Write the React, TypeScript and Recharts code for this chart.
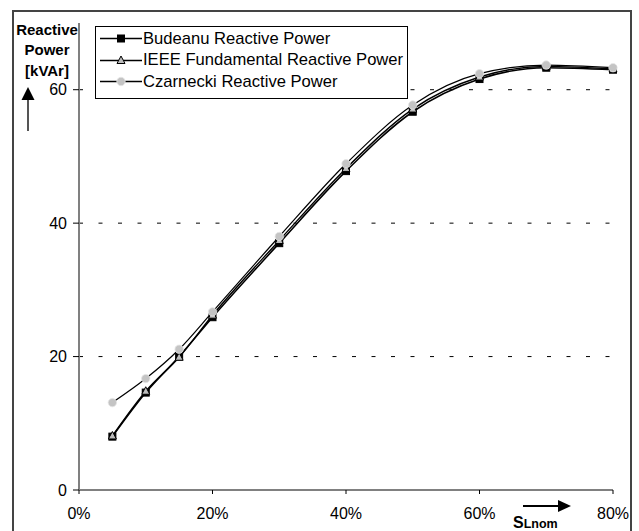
import React from "react";
import {
  LineChart,
  Line,
  XAxis,
  YAxis,
  CartesianGrid,
  Legend,
  Label,
} from "recharts";

// load in % of nominal apparent power
const loads = [5, 10, 15, 20, 30, 40, 50, 60, 70, 80];
// reactive power in kVAr
const budeanu = [8.0, 14.6, 20.0, 25.9, 37.0, 47.8, 56.7, 61.6, 63.3, 63.0];
const ieee = [8.1, 14.8, 19.9, 26.2, 37.4, 48.2, 57.1, 61.9, 63.5, 63.1];
const czarnecki = [13.1, 16.7, 21.1, 26.7, 38.0, 48.9, 57.7, 62.4, 63.7, 63.3];

const xTicks = [0, 20, 40, 60, 80];
const yTicks = [0, 20, 40, 60];

const seriesOrder = ["budeanu", "ieee", "czarnecki"];

const FONT = "'Liberation Sans', Arial, sans-serif";

const data = loads.map((x, i) => ({
  load: x,
  budeanu: budeanu[i],
  ieee: ieee[i],
  czarnecki: czarnecki[i],
}));

// markers
const Square = ({ cx, cy }: { cx: number; cy: number }) => (
  <rect x={cx - 3.5} y={cy - 3.5} width={7} height={7} fill="#000" stroke="#000" />
);
const Triangle = ({ cx, cy }: { cx: number; cy: number }) => (
  <polygon
    points={`${cx},${cy - 4.5} ${cx + 4},${cy + 3} ${cx - 4},${cy + 3}`}
    fill="#bdbdbd"
    stroke="#000"
    strokeWidth={1}
  />
);
const Circle = ({ cx, cy }: { cx: number; cy: number }) => (
  <circle cx={cx} cy={cy} r={4.2} fill="#c4c4c4" stroke="#e6e6e6" strokeWidth={0.8} />
);

const MARKERS: { [key: string]: any } = {
  budeanu: Square,
  ieee: Triangle,
  czarnecki: Circle,
};

const renderLegend = ({ payload }: any) => {
  const items = [...(payload || [])].sort(
    (a: any, b: any) => seriesOrder.indexOf(a.dataKey) - seriesOrder.indexOf(b.dataKey)
  );
  return (
    <div
      style={{
        border: "1px solid #000",
        background: "#fff",
        width: 313,
        height: 73,
        boxSizing: "border-box",
        fontFamily: FONT,
        fontSize: 16.6,
        color: "#000",
        paddingTop: 1,
      }}
    >
      {items.map((entry: any) => {
        const M = MARKERS[entry.dataKey];
        return (
          <div key={entry.dataKey} style={{ display: "flex", alignItems: "center", height: 21.5 }}>
            <svg width={46} height={21} style={{ flex: "none" }}>
              <line x1={4} y1={10.5} x2={46} y2={10.5} stroke="#000" strokeWidth={1.3} />
              {M && <M cx={25} cy={10.5} />}
            </svg>
            <span style={{ marginLeft: 1, whiteSpace: "nowrap" }}>{entry.value}</span>
          </div>
        );
      })}
    </div>
  );
};

const YTitle = () => (
  <g fontFamily={FONT} fontWeight="bold" fontSize={15} fill="#000" textAnchor="middle">
    <text x={47} y={35}>Reactive</text>
    <text x={47} y={55}>Power</text>
    <text x={47} y={76}>[kVAr]</text>
    <polygon points="28,87 34.5,100 21.5,100" fill="#000" />
    <line x1={28} y1={100} x2={28} y2={131} stroke="#555" strokeWidth={2} />
  </g>
);

const XTitle = () => (
  <g fontFamily={FONT} fontWeight="bold" fill="#000">
    <line x1={523} y1={506} x2={559} y2={506} stroke="#000" strokeWidth={2} />
    <polygon points="558,500 571,506 558,512" fill="#000" />
    <text x={513} y={528} fontSize={16}>
      S<tspan fontSize={12.5}>Lnom</tspan>
    </text>
  </g>
);

export default function App() {
  return (
    <div
      style={{
        position: "absolute",
        left: 0,
        top: 0,
        width: 639,
        height: 531,
        background: "#fff",
        overflow: "hidden",
      }}
    >
      <div
        style={{
          position: "absolute",
          left: 12,
          top: 10,
          width: 620,
          height: 530,
          border: "2px solid #444",
          boxSizing: "border-box",
        }}
      />
      <div style={{ position: "absolute", left: 0, top: 0 }}>
        <LineChart
          width={639}
          height={531}
          data={data}
          margin={{ top: 23, right: 26, left: 19, bottom: 0 }}
        >
          <CartesianGrid
            horizontal={true}
            vertical={false}
            horizontalValues={yTicks}
            stroke="#000"
            strokeDasharray="4 15.5"
          />
          <XAxis
            dataKey="load"
            type="number"
            domain={[0, 80]}
            ticks={xTicks}
            tickFormatter={(v) => `${v}%`}
            height={41}
            axisLine={{ stroke: "#808080", strokeWidth: 2 }}
            tickLine={{ stroke: "#000" }}
            tickSize={4}
            tickMargin={14}
            tick={{ fill: "#000", fontSize: 16, fontFamily: FONT }}
            interval={0}
          >
            <Label content={<XTitle />} />
          </XAxis>
          <YAxis
            type="number"
            domain={[0, 70]}
            ticks={yTicks}
            allowDataOverflow
            width={60}
            axisLine={{ stroke: "#808080", strokeWidth: 2 }}
            tickLine={{ stroke: "#000" }}
            tickSize={6}
            tickMargin={6}
            tick={{ fill: "#000", fontSize: 16, fontFamily: FONT }}
            interval={0}
          >
            <Label content={<YTitle />} />
          </YAxis>
          <Legend
            layout="vertical"
            align="center"
            verticalAlign="middle"
            content={renderLegend}
            wrapperStyle={{ top: 26, left: 95, width: 313 }}
          />
          <Line
            type="monotone"
            dataKey="budeanu"
            name="Budeanu Reactive Power"
            stroke="#000"
            strokeWidth={1.6}
            dot={(p: any) => <Square key={`b-${p.index}`} cx={p.cx} cy={p.cy} />}
            activeDot={false}
            isAnimationActive={false}
          />
          <Line
            type="monotone"
            dataKey="ieee"
            name="IEEE Fundamental Reactive Power"
            stroke="#000"
            strokeWidth={1.4}
            dot={(p: any) => <Triangle key={`i-${p.index}`} cx={p.cx} cy={p.cy} />}
            activeDot={false}
            isAnimationActive={false}
          />
          <Line
            type="monotone"
            dataKey="czarnecki"
            name="Czarnecki Reactive Power"
            stroke="#000"
            strokeWidth={1.2}
            dot={(p: any) => <Circle key={`c-${p.index}`} cx={p.cx} cy={p.cy} />}
            activeDot={false}
            isAnimationActive={false}
          />
        </LineChart>
      </div>
    </div>
  );
}
